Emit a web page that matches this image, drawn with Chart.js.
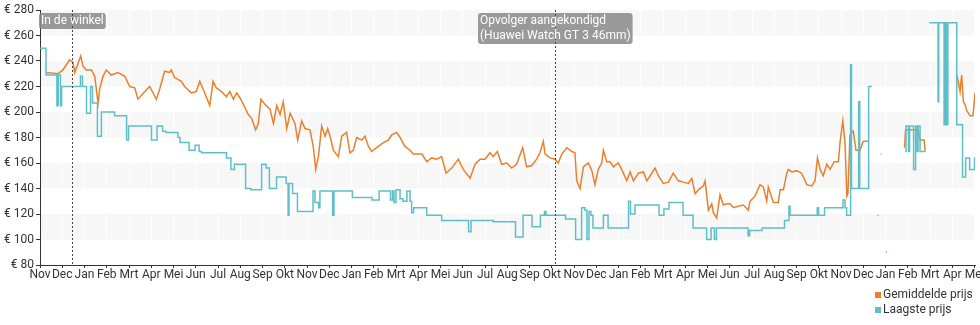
<!DOCTYPE html>
<html>
<head>
<meta charset="utf-8">
<script src="https://cdn.jsdelivr.net/npm/chart.js@4.4.1/dist/chart.umd.min.js"></script>
<style>
  html, body { margin: 0; padding: 0; background: #fff; }
  #wrap { position: relative; width: 980px; height: 325px; }
  #legend { position: absolute; left: 875px; top: 287px; font: 12px Roboto, sans-serif; color: #333; line-height: 15px; }
  #legend i { display: inline-block; width: 6px; height: 6px; margin-right: 2px; }
</style>
</head>
<body>
<div id="wrap">
  <canvas id="chart" width="980" height="325"></canvas>
  <div id="legend">
    <div><i style="background:#ec7f2c"></i>Gemiddelde prijs</div>
    <div><i style="background:#5fbfc8"></i>Laagste prijs</div>
  </div>
</div>
<script>
// x = months since 1 Nov 2019
const monthLabels = ["Nov", "Dec", "Jan", "Feb", "Mrt", "Apr", "Mei", "Jun", "Jul", "Aug", "Sep", "Okt",
  "Nov", "Dec", "Jan", "Feb", "Mrt", "Apr", "Mei", "Jun", "Jul", "Aug", "Sep", "Okt",
  "Nov", "Dec", "Jan", "Feb", "Mrt", "Apr", "Mei", "Jun", "Jul", "Aug", "Sep", "Okt",
  "Nov", "Dec", "Jan", "Feb", "Mrt", "Apr", "Mei"];

const yTicks = [80, 100, 120, 140, 160, 180, 200, 220, 240, 260, 280];

const eventMonths = [1.44, 23.15];
const eventTexts = [["In de winkel"], ["Opvolger aangekondigd", "(Huawei Watch GT 3 46mm)"]];

// gemiddelde prijs
const avgPoints = [
  [0.28, 231], [0.81, 230], [1.03, 233], [1.33, 241], [1.48, 239], [1.56, 231], [1.83, 244], [1.93, 236],
  [2.08, 233], [2.31, 233], [2.46, 228], [2.61, 207], [2.68, 218], [2.83, 228], [2.98, 233], [3.20, 229],
  [3.51, 231], [3.81, 228], [4.03, 220], [4.26, 219], [4.40, 210], [4.71, 216], [4.93, 220], [5.23, 210],
  [5.38, 218], [5.60, 232], [5.83, 231], [5.90, 233], [6.05, 227], [6.35, 224], [6.50, 220], [6.80, 215],
  [7.02, 216], [7.18, 224], [7.33, 218], [7.63, 205], [7.78, 224], [7.92, 219], [8.22, 215], [8.37, 212],
  [8.53, 216], [8.69, 210], [8.84, 215], [8.99, 211], [9.14, 206], [9.36, 198], [9.51, 195], [9.69, 186],
  [9.81, 191], [9.93, 210], [10.11, 206], [10.34, 202], [10.49, 191], [10.64, 205], [10.79, 198], [10.93, 208],
  [11.09, 187], [11.24, 199], [11.46, 191], [11.58, 178], [11.76, 193], [11.91, 187], [12.13, 186], [12.28, 173],
  [12.39, 155], [12.51, 165], [12.66, 189], [12.81, 181], [12.93, 187], [13.08, 178], [13.18, 170], [13.41, 165],
  [13.56, 181], [13.78, 184], [13.93, 168], [14.08, 170], [14.23, 180], [14.46, 178], [14.61, 181], [14.76, 173],
  [14.91, 169], [15.20, 173], [15.43, 176], [15.65, 178], [15.81, 182], [16.03, 184], [16.18, 180], [16.40, 173],
  [16.63, 170], [16.78, 167], [16.93, 167], [17.16, 167], [17.38, 161], [17.60, 164], [17.83, 163], [18.05, 165],
  [18.25, 152], [18.50, 156], [18.80, 163], [19.02, 155], [19.33, 148], [19.55, 159], [19.78, 163], [20.00, 163],
  [20.22, 168], [20.37, 165], [20.55, 169], [20.75, 159], [20.98, 160], [21.20, 156], [21.42, 159], [21.69, 172],
  [21.87, 157], [22.10, 158], [22.32, 163], [22.47, 168], [22.62, 177], [22.70, 167], [22.92, 164], [23.15, 163],
  [23.29, 160], [23.45, 167], [23.67, 172], [23.90, 169], [24.04, 168], [24.12, 146], [24.27, 140], [24.42, 157],
  [24.64, 160], [24.80, 154], [24.94, 143], [25.09, 155], [25.24, 160], [25.32, 170], [25.47, 161], [25.62, 161],
  [25.77, 157], [25.99, 160], [26.14, 155], [26.37, 146], [26.52, 153], [26.67, 146], [26.89, 152], [27.12, 153],
  [27.27, 146], [27.42, 150], [27.64, 156], [27.79, 150], [28.01, 144], [28.24, 145], [28.46, 152], [28.69, 146],
  [28.91, 145], [29.14, 144], [29.29, 148], [29.44, 136], [29.59, 139], [29.81, 142], [29.89, 146], [30.04, 123],
  [30.19, 128], [30.26, 121], [30.41, 117], [30.56, 135], [30.71, 127], [30.86, 128], [31.01, 128], [31.16, 125],
  [31.38, 126], [31.61, 127], [31.83, 123], [31.91, 130], [32.13, 134], [32.36, 143], [32.51, 141], [32.66, 130],
  [32.73, 141], [32.96, 129], [33.18, 129], [33.26, 139], [33.41, 139], [33.56, 152], [33.63, 155], [33.78, 153],
  [34.01, 154], [34.23, 152], [34.46, 143], [34.68, 142], [34.83, 146], [34.94, 164], [35.06, 155], [35.20, 150],
  [35.36, 159], [35.51, 155], [35.69, 161], [35.88, 161], [35.96, 177], [36.08, 193], [36.18, 175], [36.26, 134],
  [36.31, 136], [36.40, 182], [36.55, 185], [36.67, 170], [36.85, 170], [37.00, 177], [37.21, 177], [37.30, null],
  [37.78, 167], [37.82, 167], [37.90, null],
  [38.85, 172], [38.90, 186], [39.24, 186], [39.46, 186], [39.55, 178], [39.73, 178], [39.78, 169], [39.90, null],
  [41.21, 229], [41.35, 216], [41.42, 229], [41.50, 208], [41.57, 206], [41.65, 201], [41.80, 197], [41.93, 197],
  [42.02, 215]
];

// laagste prijs (stapsgewijs: elke waarde geldt vanaf zijn maand tot het volgende punt)
const lowPoints = [
  [0.00, 250], [0.27, 229], [0.76, 205], [0.82, 229], [0.92, 205], [0.97, 220], [1.82, 228], [1.91, 220],
  [2.09, 199], [2.27, 220], [2.36, 207], [2.58, 181], [2.76, 200], [3.35, 197], [3.89, 178], [3.98, 189],
  [5.01, 178], [5.26, 189], [5.51, 185], [5.66, 184], [6.20, 180], [6.29, 176], [6.70, 170], [6.97, 174],
  [7.15, 169], [7.26, 168], [8.38, 164], [8.58, 155], [8.74, 159], [9.24, 140], [9.48, 139], [9.96, 159],
  [10.16, 156], [10.31, 140], [10.63, 149], [11.06, 144], [11.15, 119], [11.19, 144], [11.35, 136], [11.57, 122],
  [12.27, 138], [12.36, 129], [12.52, 125], [12.58, 138], [13.15, 119], [13.21, 138], [14.04, 133], [14.92, 131],
  [15.24, 138], [15.75, 131], [15.84, 138], [15.91, 129], [16.00, 139], [16.18, 132], [16.31, 130], [16.49, 138],
  [16.63, 130], [16.70, 121], [16.79, 125], [17.38, 119], [18.05, 115], [19.26, 106], [19.37, 115], [20.37, 114],
  [21.37, 102], [21.71, 119], [22.11, 110], [22.49, 119], [22.67, 122], [22.74, 119], [23.62, 116], [24.07, 100],
  [24.34, 125], [24.49, 123], [24.58, 100], [24.67, 122], [24.76, 119], [24.85, 109], [25.32, 119], [25.53, 109],
  [26.45, 130], [26.54, 120], [26.74, 127], [27.82, 119], [28.04, 124], [28.27, 129], [28.90, 119], [29.35, 109],
  [29.96, 100], [30.16, 109], [30.31, 100], [30.40, 109], [31.82, 103], [31.89, 107], [32.45, 109], [33.46, 115],
  [33.66, 126], [33.71, 119], [34.93, 125], [34.99, 119], [35.26, 125], [36.09, 131], [36.18, 125], [36.25, 119],
  [36.43, 237], [36.47, 140], [36.79, 208], [36.84, 140], [37.24, 220], [37.38, 220], [37.45, null],
  [37.64, 119], [37.69, 119], [37.75, null],
  [38.02, 90], [38.07, 90], [38.20, null],
  [38.88, 169], [38.92, 189], [39.03, 169], [39.08, 189], [39.26, 155], [39.35, 189], [39.42, 169], [39.46, 189],
  [39.55, 169], [39.78, 169], [39.90, null],
  [39.97, 270], [40.36, 208], [40.39, 270], [40.63, 190], [40.67, 270], [40.70, 190], [40.73, 270], [40.76, 190],
  [40.80, 270], [41.20, 190], [41.46, 149], [41.60, 164], [41.78, 155], [42.00, 164], [42.02, 164]
];

const toXY = pts => pts.map(([x, y]) => ({ x, y }));

const bands = {
  id: "bands",
  beforeDraw(chart) {
    const { ctx, chartArea: a, scales: { y } } = chart;
    ctx.save();
    ctx.fillStyle = "#f7f7f7";
    for (let v = 260; v >= 100; v -= 40) {
      const top = y.getPixelForValue(v + 20);
      const bottom = y.getPixelForValue(v);
      ctx.fillRect(a.left, top, a.right - a.left, bottom - top);
    }
    ctx.restore();
  },
};

const markers = {
  id: "markers",
  afterDatasetsDraw(chart) {
    const { ctx, chartArea: a, scales: { x } } = chart;
    ctx.save();
    ctx.font = "12px Roboto, sans-serif";
    eventMonths.forEach((m, i) => {
      const px = Math.round(x.getPixelForValue(m)) + 0.5;
      const lines = eventTexts[i];
      const w = Math.max(...lines.map(t => ctx.measureText(t).width)) + 4;
      const h = lines.length * 15 + 1;
      const bx = Math.round(px - w / 2);
      const by = 13;
      ctx.fillStyle = "rgba(140,140,140,0.88)";
      ctx.beginPath();
      ctx.roundRect(bx, by, w, h, 3);
      ctx.fill();
      ctx.strokeStyle = "#444";
      ctx.lineWidth = 1;
      ctx.setLineDash([2, 2]);
      ctx.beginPath();
      ctx.moveTo(px, a.top);
      ctx.lineTo(px, a.bottom);
      ctx.stroke();
      ctx.fillStyle = "#fff";
      ctx.textBaseline = "middle";
      lines.forEach((t, j) => ctx.fillText(t, bx + 2, by + 8 + j * 15));
    });
    ctx.restore();
  },
};

Chart.defaults.font.family = "Roboto, sans-serif";
Chart.defaults.font.size = 12;
Chart.defaults.color = "#333";

const priceChart = new Chart(document.getElementById("chart"), {
  type: "line",
  data: {
    datasets: [
      {
        label: "Gemiddelde prijs",
        data: toXY(avgPoints),
        borderColor: "#ec7f2c",
        borderWidth: 1.5,
        pointRadius: 0,
        tension: 0,
        order: 1,
      },
      {
        label: "Laagste prijs",
        data: toXY(lowPoints),
        borderColor: "#5fbfc8",
        borderWidth: 1.5,
        pointRadius: 0,
        stepped: true,
        order: 0,
      },
    ],
  },
  options: {
    responsive: false,
    animation: false,
    layout: { padding: { top: 10, right: 5, bottom: 40, left: 0 } },
    plugins: { legend: { display: false }, tooltip: { enabled: false } },
    scales: {
      x: {
        type: "linear",
        min: 0,
        max: 42.02,
        afterBuildTicks: s => { s.ticks = monthLabels.map((_, i) => ({ value: i })); },
        afterFit: s => { s.height = 20; s.paddingLeft = 0; s.paddingRight = 0; },
        ticks: { autoSkip: false, maxRotation: 0, padding: 0, callback: v => monthLabels[v] },
        grid: { color: "rgba(255,255,255,0.8)", tickColor: "#333", tickLength: 3 },
        border: { color: "#333" },
      },
      y: {
        min: 80,
        max: 280,
        afterBuildTicks: s => { s.ticks = yTicks.map(v => ({ value: v })); },
        afterFit: s => { s.width = 40; s.paddingTop = 0; s.paddingBottom = 0; },
        ticks: { padding: 2, callback: v => "€ " + v },
        grid: { drawOnChartArea: false, color: "#333", tickLength: 4 },
        border: { color: "#333" },
      },
    },
  },
  plugins: [bands, markers],
});
</script>
</body>
</html>
